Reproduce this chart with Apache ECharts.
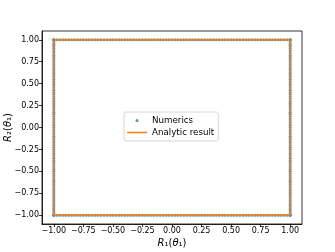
<!DOCTYPE html>
<html>
<head>
<meta charset="utf-8">
<script src="https://cdn.jsdelivr.net/npm/echarts@6/dist/echarts.min.js"></script>
<style>html,body{margin:0;padding:0;background:#fff}#c{width:335px;height:252px}</style>
</head>
<body>
<div id="c"></div>
<script>
// Positions along each side of the square (numerical samples)
const sideValues = [-1, -0.975, -0.95, -0.925, -0.9, -0.875, -0.85, -0.825, -0.8, -0.775,
  -0.75, -0.725, -0.7, -0.675, -0.65, -0.625, -0.6, -0.575, -0.55, -0.525,
  -0.5, -0.475, -0.45, -0.425, -0.4, -0.375, -0.35, -0.325, -0.3, -0.275,
  -0.25, -0.225, -0.2, -0.175, -0.15, -0.125, -0.1, -0.075, -0.05, -0.025,
  0, 0.025, 0.05, 0.075, 0.1, 0.125, 0.15, 0.175, 0.2, 0.225,
  0.25, 0.275, 0.3, 0.325, 0.35, 0.375, 0.4, 0.425, 0.45, 0.475,
  0.5, 0.525, 0.55, 0.575, 0.6, 0.625, 0.65, 0.675, 0.7, 0.725,
  0.75, 0.775, 0.8, 0.825, 0.85, 0.875, 0.9, 0.925, 0.95, 0.975, 1];
// Analytic result: corners of the square path
const analyticR1 = [-1, 1, 1, -1, -1];
const analyticR2 = [-1, -1, 1, 1, -1];
const tickValues = [-1, -0.75, -0.5, -0.25, 0, 0.25, 0.5, 0.75, 1];

const numerics = [];
sideValues.forEach(v => numerics.push([v, -1]));
sideValues.forEach(v => numerics.push([1, v]));
sideValues.forEach(v => numerics.push([v, 1]));
sideValues.forEach(v => numerics.push([-1, v]));
const analytic = analyticR1.map((x, i) => [x, analyticR2[i]]);

const fmt = v => v.toFixed(2).replace('-', '\u2212');
const FONT = 'DejaVu Sans';
function axisCommon() {
  return {
    type: 'value', min: -1.1, max: 1.1,
    splitLine: { show: false },
    axisLine: { show: true, onZero: false, lineStyle: { color: '#000', width: 0.8 } },
    axisTick: { show: true, customValues: tickValues, length: 3, lineStyle: { color: '#000', width: 0.8 } },
    axisLabel: { customValues: tickValues, formatter: fmt, fontFamily: FONT, fontSize: 8, color: '#000', margin: 3 },
    nameLocation: 'middle',
    nameMoveOverlap: false,
    nameTextStyle: { fontFamily: FONT, fontSize: 10, color: '#000',
      rich: { i: { fontFamily: FONT, fontStyle: 'italic', fontSize: 10, color: '#000' } } }
  };
}
const xAxis = Object.assign(axisCommon(), { name: '{i|R}\u2081({i|\u03b8}\u2081)', nameGap: 14 });
const yAxis = Object.assign(axisCommon(), { name: '{i|R}\u2082({i|\u03b8}\u2081)', nameGap: 29 });

const chart = echarts.init(document.getElementById('c'), null, { renderer: 'canvas' });
chart.setOption({
  animation: false,
  backgroundColor: '#fff',
  grid: { left: 42, right: 33, top: 31, bottom: 28, show: true, borderColor: '#000', borderWidth: 0.8,
    backgroundColor: 'transparent', containLabel: false, outerBoundsMode: 'none' },
  xAxis: xAxis,
  yAxis: yAxis,
  legend: {
    orient: 'vertical', left: 124, top: 112,
    padding: [4, 4, 4, 3], itemGap: 3, itemWidth: 20, itemHeight: 4,
    backgroundColor: 'rgba(255,255,255,0.8)', borderColor: '#d5d5d5', borderWidth: 1, borderRadius: 2,
    textStyle: { fontFamily: FONT, fontSize: 8.7, color: '#000' },
    data: [
      { name: 'Numerics', icon: 'path://M8.5,0.5a1.5,1.5 0 1,0 3,0a1.5,1.5 0 1,0 -3,0M0,-1.5h0.01v4h-0.01zM19.99,-1.5h0.01v4h-0.01z',
        itemStyle: { color: '#1f77b4', borderWidth: 0 } },
      { name: 'Analytic result', icon: 'path://M0,0h20v1.5h-20z',
        itemStyle: { color: '#ff7f0e', borderWidth: 0 }, lineStyle: { width: 0, opacity: 0 } }
    ]
  },
  series: [
    { name: 'Numerics', type: 'scatter', data: numerics, symbolSize: 3, z: 2,
      itemStyle: { color: '#1f77b4' } },
    { name: 'Analytic result', type: 'line', data: analytic, symbol: 'none', z: 5,
      lineStyle: { color: '#ff7f0e', width: 1.4 }, itemStyle: { color: '#ff7f0e' } }
  ]
});
</script>
</body>
</html>
